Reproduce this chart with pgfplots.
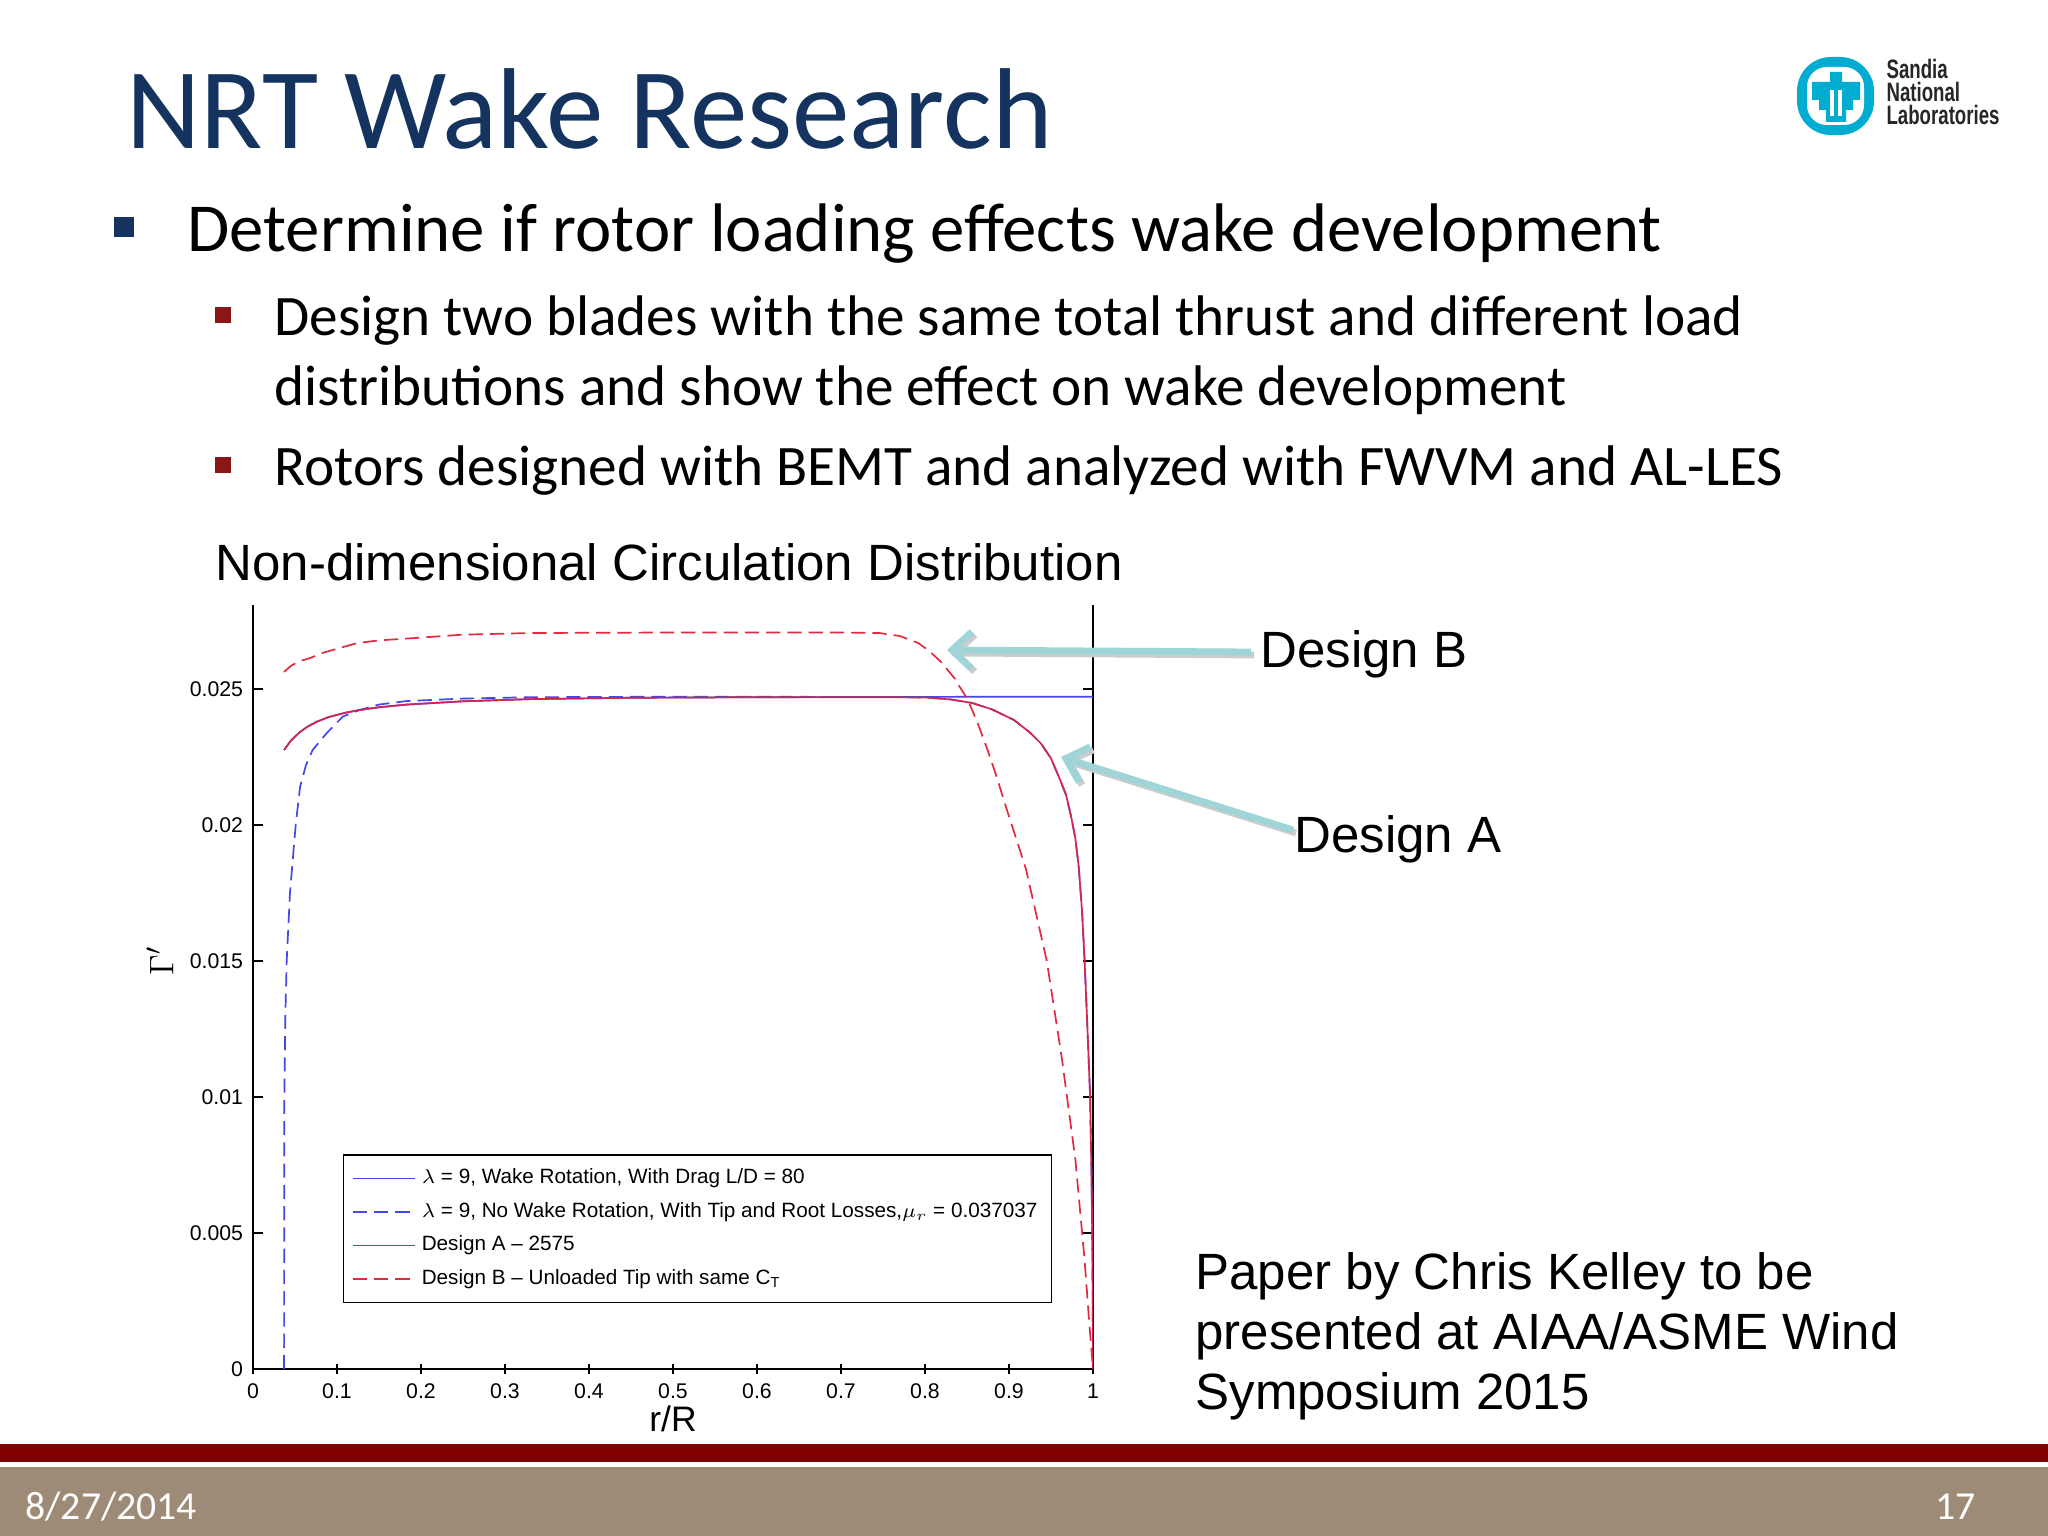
\documentclass[border=0pt]{standalone}
\usepackage{fontspec}
\setmainfont{Carlito}
\newfontfamily\arial{Liberation Sans}
\usepackage{pgfplots}
\pgfplotsset{compat=1.18}
\usetikzlibrary{arrows.meta}

\definecolor{titleblue}{HTML}{14335E}
\definecolor{bulletred}{HTML}{8C1515}
\definecolor{barred}{HTML}{800000}
\definecolor{taupe}{HTML}{9D8B77}
\definecolor{arrowteal}{HTML}{9FD5D6}
\definecolor{sandia}{HTML}{00ADD0}
\definecolor{lineblue}{HTML}{4646E6}
\definecolor{linered}{HTML}{E42A40}
\definecolor{lineredA}{HTML}{D42550}

% Design A (red solid)
\pgfplotstableread{
x y
0.037 0.02276
0.045 0.02310
0.055 0.02340
0.065 0.02362
0.076 0.02380
0.090 0.02397
0.110 0.02413
0.127 0.02423
0.150 0.02433
0.183 0.02443
0.250 0.02455
0.330 0.02463
0.450 0.02468
0.600 0.02470
0.750 0.02470
0.800 0.02469
0.830 0.02462
0.856 0.02449
0.880 0.02425
0.906 0.02386
0.925 0.02340
0.938 0.02300
0.950 0.02245
0.961 0.02165
0.968 0.02110
0.974 0.02030
0.979 0.01950
0.983 0.01846
0.987 0.01680
0.990 0.01500
0.993 0.01280
0.9964 0.01015
0.998 0.00750
0.999 0.00510
0.9997 0.00250
1.000 0.00000
}\designA

% lambda = 9, wake rotation, drag (blue solid)
\pgfplotstableread{
x y
0.037 0.02276
0.045 0.02310
0.055 0.02340
0.065 0.02362
0.076 0.02380
0.090 0.02397
0.110 0.02413
0.127 0.02423
0.150 0.02433
0.183 0.02443
0.250 0.02455
0.330 0.02463
0.450 0.02468
0.600 0.02470
0.800 0.02471
0.900 0.02472
1.000 0.02472
}\wakerot

% lambda = 9, no wake rotation, tip and root losses (blue dashed)
\pgfplotstableread{
x y
0.0370 0.00000
0.0371 0.00500
0.0373 0.01000
0.0385 0.01300
0.0401 0.01500
0.0440 0.01750
0.0508 0.02000
0.0560 0.02140
0.0630 0.02220
0.0710 0.02276
0.0877 0.02338
0.1070 0.02399
0.1270 0.02423
0.1500 0.02443
0.1830 0.02456
0.2500 0.02465
0.3300 0.02470
0.5000 0.02472
0.7500 0.02471
0.8000 0.02469
0.8300 0.02462
0.8560 0.02449
0.8800 0.02425
0.9060 0.02386
0.9250 0.02340
0.9380 0.02300
0.9500 0.02245
0.9610 0.02165
0.9680 0.02110
0.9740 0.02030
0.9790 0.01950
0.9830 0.01846
0.9870 0.01680
0.9900 0.01500
0.9930 0.01280
0.9964 0.01015
0.9980 0.00750
0.9990 0.00510
0.9997 0.00250
1.0000 0.00000
}\norot

% Design B, unloaded tip (red dashed)
\pgfplotstableread{
x y
0.037 0.02563
0.045 0.02585
0.055 0.02602
0.068 0.02614
0.085 0.02635
0.100 0.02648
0.124 0.02669
0.150 0.02679
0.190 0.02687
0.250 0.02700
0.330 0.02706
0.500 0.02708
0.700 0.02708
0.746 0.02706
0.770 0.02695
0.792 0.02669
0.805 0.02640
0.819 0.02600
0.835 0.02540
0.851 0.02460
0.862 0.02380
0.874 0.02280
0.885 0.02180
0.896 0.02070
0.920 0.01840
0.945 0.01500
0.963 0.01140
0.979 0.00770
0.990 0.00400
0.996 0.00150
1.000 0.00000
}\designB

\begin{document}
\begin{tikzpicture}
\begin{scope}[x=0.352881pt,y=-0.352881pt]
  \fill[white] (0,0) rectangle (2048,1536);
  % footer bands
  \fill[barred] (0,1444) rectangle (2048,1462);
  \fill[taupe] (0,1467) rectangle (2048,1536);
  \node[anchor=base west,inner sep=0,text=white,font=\fontsize{14}{17}\selectfont] at (25,1519) {8/27/2014};
  \node[anchor=base east,inner sep=0,text=white,font=\fontsize{14}{17}\selectfont] at (1976,1519) {17};

  % title
  \node[anchor=base west,inner sep=0,text=titleblue,font=\fontsize{40.6}{48}\selectfont] at (126,149) {NRT Wake Research};

  % logo
  \fill[sandia, rounded corners=12] (1797,57) rectangle (1874,135);
  \fill[white, rounded corners=7] (1807,67) rectangle (1864,125);
  \fill[sandia] (1830,72) -- (1842,72) -- (1842,82) -- (1860,82) -- (1860,100) -- (1853,100) -- (1853,110)
     -- (1846,110) -- (1846,122) -- (1826,122) -- (1826,110) -- (1819,110) -- (1819,100) -- (1812,100)
     -- (1812,82) -- (1830,82) -- cycle;
  \draw[white, line width=1.2pt] (1832,90) -- (1832,116) (1840,90) -- (1840,116);
  \begin{scope}[font=\arial\bfseries\fontsize{9.4}{11}\selectfont, text=black!85]
    \node[anchor=base west,inner sep=0] at (1886,79) {\scalebox{0.7}[1]{Sandia}};
    \node[anchor=base west,inner sep=0] at (1886,102) {\scalebox{0.7}[1]{National}};
    \node[anchor=base west,inner sep=0] at (1886,125) {\scalebox{0.7}[1]{Laboratories}};
  \end{scope}

  % bullets
  \fill[titleblue] (114,217) rectangle (134,237);
  \node[anchor=base west,inner sep=0,font=\fontsize{24.25}{29}\selectfont] at (187,251) {Determine if rotor loading effects wake development};
  \fill[bulletred] (215,307) rectangle (231,323);
  \node[anchor=base west,inner sep=0,font=\fontsize{20.2}{24}\selectfont] at (274,336) {Design two blades with the same total thrust and different load};
  \node[anchor=base west,inner sep=0,font=\fontsize{20.2}{24}\selectfont] at (274,405) {distributions and show the effect on wake development};
  \fill[bulletred] (215,457) rectangle (231,473);
  \node[anchor=base west,inner sep=0,font=\fontsize{20.2}{24}\selectfont] at (274,485) {Rotors designed with BEMT and analyzed with FWVM and AL-LES};

  % chart title and side texts
  \begin{scope}[font=\arial\fontsize{18}{21}\selectfont]
    \node[anchor=base west,inner sep=0] at (215,580) {Non-dimensional Circulation Distribution};
    \node[anchor=base west,inner sep=0] at (1260,667) {Design B};
    \node[anchor=base west,inner sep=0] at (1294,852) {Design A};
    \node[anchor=base west,inner sep=0] at (1195,1289) {Paper by Chris Kelley to be};
    \node[anchor=base west,inner sep=0] at (1195,1349) {presented at AIAA/ASME Wind};
    \node[anchor=base west,inner sep=0] at (1195,1409) {Symposium 2015};
  \end{scope}
\end{scope}

\begin{axis}[
  at={(89.279pt,-483.094pt)}, anchor=south west,
  scale only axis, width=296.42pt, height=269.6pt,
  xmin=0, xmax=1, ymin=0, ymax=0.02809,
  axis x line=bottom, axis y line=box,
  axis line style={-, line width=0.5pt, black},
  xtick={0,0.1,0.2,0.3,0.4,0.5,0.6,0.7,0.8,0.9,1},
  xticklabels={0,0.1,0.2,0.3,0.4,0.5,0.6,0.7,0.8,0.9,1},
  ytick={0,0.005,0.01,0.015,0.02,0.025},
  yticklabels={0,0.005,0.01,0.015,0.02,0.025},
  scaled y ticks=false, scaled x ticks=false,
  yticklabel pos=left,
  tick style={black, line width=0.5pt},
  major tick length=3.5pt,
  /pgf/number format/assume math mode=true,
  ticklabel style={font=\arial\fontsize{7.5}{9}\selectfont},
  xlabel={r/R},
  every axis x label/.style={at={(rel axis cs:0.5,0)}, yshift=-22.2pt, anchor=base, font=\arial\fontsize{12.5}{14}\selectfont},
  ylabel={$\Gamma'$},
  every axis y label/.style={at={(rel axis cs:0,0.534)}, xshift=-32.8pt, rotate=90, anchor=center, font=\fontsize{13}{15}\selectfont},
  legend image code/.code={\draw[#1] (0pt,0pt) -- (22pt,0pt);},
  legend cell align=left,
  legend style={at={(rel axis cs:0.107,0.086)}, anchor=south west, draw=black, line width=0.5pt,
    font=\arial\fontsize{7.3}{9}\selectfont, inner xsep=3pt, inner ysep=3pt, row sep=1pt},
]
\addplot[lineblue, line width=0.6pt] table[x=x,y=y] {\wakerot};
\addplot[lineblue, line width=0.6pt, dash pattern=on 5pt off 2.5pt] table[x=x,y=y] {\norot};
\addplot[lineredA, line width=0.6pt] table[x=x,y=y] {\designA};
\addplot[linered, line width=0.6pt, dash pattern=on 5pt off 2.5pt] table[x=x,y=y] {\designB};
\addlegendentry{$\lambda$ = 9, Wake Rotation, With Drag L/D = 80}
\addlegendentry{$\lambda$ = 9, No Wake Rotation, With Tip and Root Losses,$\mu_r$ = 0.037037}
\addlegendentry{Design A – 2575}
\addlegendentry{Design B – Unloaded Tip with same C\textsubscript{T}}
\end{axis}

\begin{scope}[x=0.352881pt,y=-0.352881pt]
  % callout arrows
  \draw[black!20, line width=2.4pt, -{Straight Barb[length=7pt,width=13pt]}] (1254,655) -- (950,653);
  \draw[black!20, line width=2.4pt, -{Straight Barb[length=7pt,width=13pt]}] (1296,833) -- (1064,760);
  \draw[arrowteal, line width=2.4pt, -{Straight Barb[length=7pt,width=13pt]}] (1251,652) -- (947,650);
  \draw[arrowteal, line width=2.4pt, -{Straight Barb[length=7pt,width=13pt]}] (1293,830) -- (1061,757);
\end{scope}

\pgfresetboundingbox
\path[x=0.352881pt,y=-0.352881pt] (0,0) rectangle (2048,1536);
\end{tikzpicture}
\end{document}
